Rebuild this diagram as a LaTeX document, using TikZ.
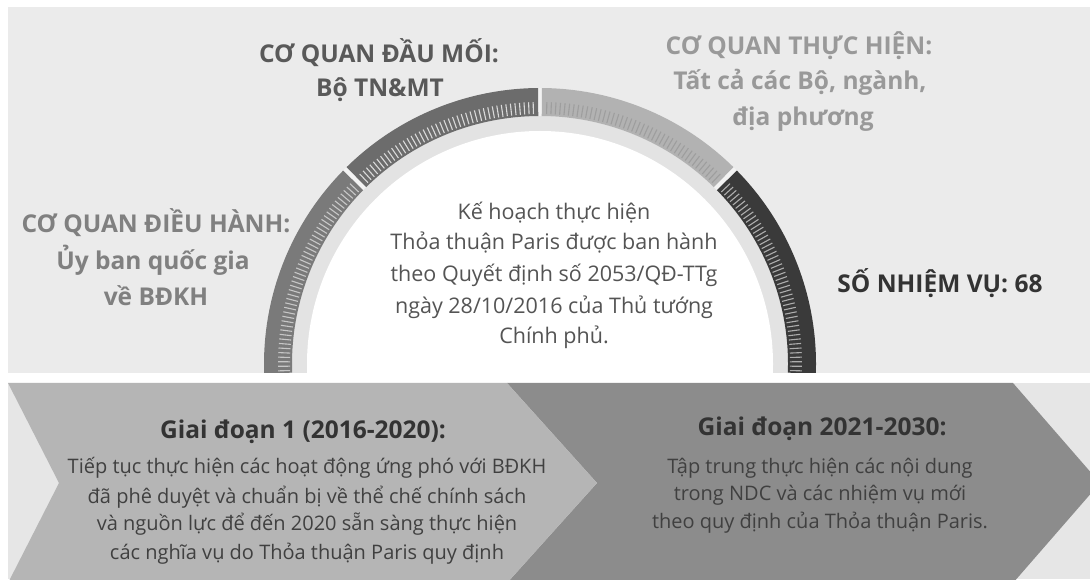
\documentclass[tikz,border=0pt]{standalone}
\usepackage{fontspec}
\setmainfont{Open Sans}
\usetikzlibrary{calc}
\definecolor{bg}{HTML}{EBEBEB}
\definecolor{bgb}{HTML}{E6E6E6}
\definecolor{ringc}{HTML}{E3E3E3}
\definecolor{segL}{HTML}{7A7A7A}
\definecolor{segTL}{HTML}{6C6C6C}
\definecolor{segTR}{HTML}{B2B2B2}
\definecolor{segR}{HTML}{3A3A3A}
\definecolor{chevA}{HTML}{B5B5B5}
\definecolor{chevB}{HTML}{8C8C8C}
\tikzset{
  lbl/.style={anchor=base, inner sep=0pt},
  head/.style={lbl, font=\fontsize{24.5}{25}\selectfont\bfseries},
  ctr/.style={lbl, font=\fontsize{21.5}{22}\selectfont, text=black!67},
  body/.style={lbl, font=\fontsize{20}{20}\selectfont, text=black!75},
  tick/.style={line width=1.1pt},
}
\begin{document}
\begin{tikzpicture}[x=1pt,y=1pt]
\useasboundingbox (0,0) rectangle (1090,579);
\fill[white] (0,0) rectangle (1090,579);
\fill[bg] (8,206) rectangle (1090,572);
\fill[bgb] (8,0) rectangle (1090,196);
\coordinate (c) at (540,215);
% gauge
\begin{scope}
\clip (0,206) rectangle (1090,579);
\fill[white!95!black] (c) circle (276);
\fill[ringc] (c) circle (248);
\fill[segL] ($(c)+(182:276)$) arc (182:135.5:276) -- ($(c)+(135.5:248)$) arc (135.5:182:248) -- cycle;
\fill[segTL] ($(c)+(134.5:276)$) arc (134.5:90.4:276) -- ($(c)+(90.4:248)$) arc (90.4:134.5:248) -- cycle;
\fill[segTR] ($(c)+(89.6:276)$) arc (89.6:45.5:276) -- ($(c)+(45.5:248)$) arc (45.5:89.6:248) -- cycle;
\fill[segR] ($(c)+(44.5:276)$) arc (44.5:-2:276) -- ($(c)+(-2:248)$) arc (-2:44.5:248) -- cycle;
\foreach \a in {136.5,137.5,...,181.5} \draw[tick, white!78!black] (c) ++(\a:250) -- ++(\a:12);
\foreach \a in {91.5,92.5,...,133.5} \draw[tick, white!85!black] (c) ++(\a:250) -- ++(\a:12);
\foreach \a in {46.5,47.5,...,88.5} \draw[tick, white!62!black] (c) ++(\a:250) -- ++(\a:12);
\foreach \a in {-1.5,-0.5,...,43.5} \draw[tick, white!68!black] (c) ++(\a:250) -- ++(\a:12);
\fill[white] (c) circle (233);
\end{scope}
% chevrons
\fill[chevB] (507,196) -- (1013,196) -- (1100,96) -- (1013,-4) -- (507,-4) -- (597,96) -- cycle;
\fill[chevA] (8,196) -- (507,196) -- (597,96) -- (507,-4) -- (8,-4) -- (59,96) -- cycle;
% top labels
\node[head, text=black!65] (dm1) at (379,516) {CƠ QUAN ĐẦU MỐI:};
\node[head, text=black!65] (dm2) at (380,482) {Bộ TN\&MT};
\node[head, text=black!40] (th1) at (799,524) {CƠ QUAN THỰC HIỆN:};
\node[head, text=black!40] (th2) at (800,489) {Tất cả các Bộ, ngành,};
\node[head, text=black!40] (th3) at (803,453) {địa phương};
\node[head, text=black!50] (dh1) at (156,346) {CƠ QUAN ĐIỀU HÀNH:};
\node[head, text=black!50] (dh2) at (153,309) {Ủy ban quốc gia};
\node[head, text=black!50] (dh3) at (156,273) {về BĐKH};
\node[head, text=black!80] (nv) at (940,286) {SỐ NHIỆM VỤ: 68};
% centre text
\node[ctr] (k1) at (554,359) {Kế hoạch thực hiện};
\node[ctr] (k2) at (554,329) {Thỏa thuận Paris được ban hành};
\node[ctr] (k3) at (554,297) {theo Quyết định số 2053/QĐ-TTg};
\node[ctr] (k4) at (554,265) {ngày 28/10/2016 của Thủ tướng};
\node[ctr] (k5) at (554,235) {Chính phủ.};
% chevron 1
\node[head, text=black!80] (g1) at (303,141) {Giai đoạn 1 (2016-2020):};
\node[body] (g1a) at (307,106) {Tiếp tục thực hiện các hoạt động ứng phó với BĐKH};
\node[body] (g1b) at (307,76) {đã phê duyệt và chuẩn bị về thể chế chính sách};
\node[body] (g1c) at (307,49) {và nguồn lực để đến 2020 sẵn sàng thực hiện};
\node[body] (g1d) at (307,20) {các nghĩa vụ do Thỏa thuận Paris quy định};
% chevron 2
\node[head, text=black!80] (g2) at (822,144) {Giai đoạn 2021-2030:};
\node[body] (g2a) at (820,106) {Tập trung thực hiện các nội dung};
\node[body] (g2b) at (820,79) {trong NDC và các nhiệm vụ mới};
\node[body] (g2c) at (820,51) {theo quy định của Thỏa thuận Paris.};
\end{tikzpicture}
\end{document}
